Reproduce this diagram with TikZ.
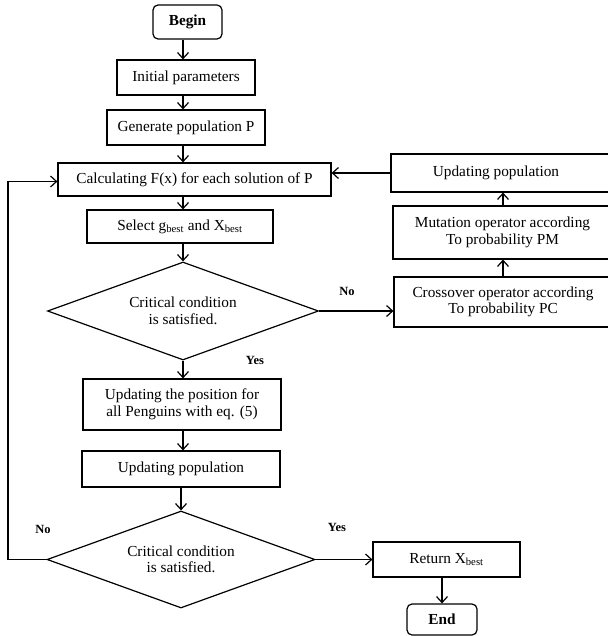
\documentclass[tikz,border=0pt]{standalone}
\usepackage{fontspec}
\setmainfont{Liberation Serif}
\usetikzlibrary{arrows.meta,shapes.geometric,calc}
\begin{document}
\begin{tikzpicture}[x=1pt,y=-1pt,
  every node/.style={font=\fontsize{15.3}{16.5}\selectfont},
  box/.style={draw,line width=1.2pt,inner sep=0pt,align=center},
  term/.style={box,rounded corners=5pt,font=\fontsize{15.3}{16.5}\selectfont\bfseries},
  dia/.style={draw,line width=1.2pt,diamond,shape aspect=2.8,inner sep=0pt,align=center},
  arr/.style={line width=1.2pt,-{Straight Barb[length=6pt,width=11pt,line width=1.2pt]}},
  lbl/.style={font=\fontsize{12.5}{14}\selectfont\bfseries}]
\useasboundingbox (0,0) rectangle (607,636);
\coordinate (ax) at (183,0);
\node[term,minimum width=69pt,minimum height=34pt] (begin) at (187.5,22) {Begin};
\node[box,minimum width=138pt,minimum height=35pt] (init) at (186,77.5) {Initial parameters};
\node[box,minimum width=158pt,minimum height=35pt] (gen) at (186,127.5) {Generate population P};
\node[box,minimum width=273pt,minimum height=33pt] (calc) at (194.5,179.5) {Calculating F(x) for each solution of P};
\node[box,minimum width=186pt,minimum height=33pt] (sel) at (180,226.5) {Select g\textsubscript{best} and X\textsubscript{best}};
\node[dia,minimum width=271pt,minimum height=98pt] (d1) at (183,311) {Critical condition\\is satisfied.};
\node[box,minimum width=198pt,minimum height=51pt] (pos) at (182,404.5) {Updating the position for\\all Penguins with eq. (5)};
\node[box,minimum width=198pt,minimum height=36pt] (upd) at (181,469) {Updating population};
\node[dia,minimum width=268pt,minimum height=97pt] (d2) at (181,559.5) {Critical condition\\is satisfied.};
\node[box,minimum width=147pt,minimum height=35pt] (ret) at (446.5,559.5) {Return X\textsubscript{best}};
\node[term,minimum width=70pt,minimum height=31pt] (end) at (442,619.5) {End};
\node[box,minimum width=221pt,minimum height=38pt] (updr) at (501.5,173) {\hspace*{-11pt}Updating population};
\node[box,minimum width=219pt,minimum height=53pt] (mut) at (502.5,232.5) {Mutation operator according\\To probability PM};
\node[box,minimum width=218pt,minimum height=50pt] (cross) at (503,302) {Crossover operator according\\To probability PC};
\node[lbl] (no1) at (347,291) {No};
\node[lbl] (yes1) at (255,360) {Yes};
\node[lbl] (no2) at (43,529) {No};
\node[lbl] (yes2) at (337,527) {Yes};
\coordinate (lx) at (8,0);
\coordinate (rx) at (503,0);
\draw[arr] (begin.south -| ax) -- (init.north -| ax);
\draw[arr] (init.south -| ax) -- (gen.north -| ax);
\draw[arr] (gen.south -| ax) -- (calc.north -| ax);
\draw[arr] (calc.south -| ax) -- (sel.north -| ax);
\draw[arr] (sel.south -| ax) -- (d1.north);
\draw[arr] (d1.south) -- (pos.north -| d1.south);
\draw[arr] (pos.south -| ax) -- (upd.north -| ax);
\draw[arr] (upd.south -| d2.north) -- (d2.north);
\draw[arr] (d2.east) -- (d2.east -| ret.west);
\draw[arr] (ret.south -| end.north) -- (end.north);
\draw[arr] (d1.east) -- (d1.east -| cross.west);
\draw[arr] (cross.north -| rx) -- (mut.south -| rx);
\draw[arr] (mut.north -| rx) -- (updr.south -| rx);
\draw[arr] (updr.west) -- (updr.west -| calc.east);
\draw[arr] (d2.west) -- (d2.west -| lx) -- ($(calc.west -| lx)+(0,2)$) -- ($(calc.west)+(0,2)$);
\end{tikzpicture}
\end{document}
